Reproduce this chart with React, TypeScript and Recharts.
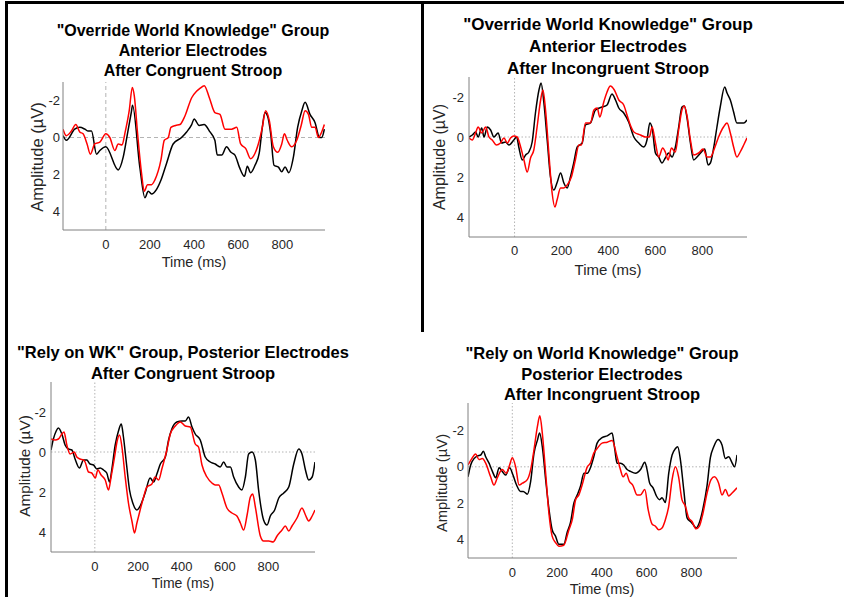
import { LineChart, Line, XAxis, YAxis, ReferenceLine } from "recharts";

// ERP waveforms, [time ms, amplitude µV]
const p1Black = [[-194,-0.1],[-179,0.15],[-141,-0.45],[-118,-0.55],[-95,-0.45],[-80,-0.35],[-65,-0.35],[-42,0.9],[-27,0.7],[0,0.5],[56,1.75],[79,1.05],[98,-0.2],[116,-1.4],[121,-1.75],[154,1.6],[177,3.25],[192,2.9],[207,3.05],[230,2.8],[250,2.3],[275,1.4],[305,0.35],[343,0],[366,-0.3],[389,-0.7],[400,-1.0],[423,-0.65],[445,-0.7],[472,-0.3],[494,0.15],[505,0.95],[525,0.95],[547,0.5],[567,0.8],[585,0.95],[605,1.6],[628,2.1],[641,1.55],[656,1.9],[676,1.5],[695,0.85],[709,-0.55],[721,-1.35],[733,-1.15],[747,-0.2],[762,1.5],[782,1.6],[797,1.85],[812,1.6],[829,1.9],[850,1.05],[869,-0.55],[888,-1.45],[903,-1.9],[925,-1.25],[948,-0.8],[968,0],[978,0],[990,-0.45]];
const p1Red = [[-194,-0.45],[-179,-0.1],[-156,-0.35],[-136,-0.7],[-118,-0.3],[-103,-0.2],[-85,0.35],[-70,0.9],[-50,0.35],[-27,0.25],[0,-0.2],[18,0],[41,0.7],[56,0.35],[74,0.4],[86,-0.2],[106,-1.45],[120,-2.7],[129,-2.25],[144,-0.2],[162,1.95],[174,2.9],[189,2.55],[207,2.55],[222,2.3],[250,1.2],[265,0.15],[283,0],[295,-0.55],[316,-0.65],[336,-0.7],[358,-1.15],[389,-2.15],[411,-2.5],[426,-2.65],[446,-2.8],[469,-2.15],[494,-1.35],[517,-1.25],[540,-0.45],[570,-0.45],[593,-0.55],[611,0.35],[634,0.6],[656,1.15],[676,0.85],[691,0.35],[709,-0.55],[724,-1.45],[741,-0.9],[759,0.5],[779,0.8],[797,0.35],[809,-0.2],[822,0.15],[842,0.5],[865,0.15],[885,-0.65],[903,-1.45],[918,-1.25],[933,-0.55],[948,-0.55],[963,0],[978,-0.3],[990,-0.7]];

const p2Black = [[-194,0],[-180,-0.1],[-166,-0.25],[-155,0],[-140,-0.45],[-130,0],[-116,-0.5],[-102,-0.35],[-88,0],[-70,-0.2],[-55,0.3],[-38,0.25],[-24,0.4],[-3,0.15],[9,0],[18,0.5],[33,1.15],[47,0.9],[61,0.75],[75,0.25],[89,-1.2],[104,-2.35],[113,-2.7],[125,-1.7],[139,0.15],[153,2],[167,2.65],[182,2.25],[196,1.8],[210,2.3],[224,2.55],[238,2],[252,1.3],[267,0.5],[288,0.3],[302,-0.6],[323,-0.7],[345,-1.35],[373,-1.5],[394,-1.6],[415,-2.15],[430,-1.85],[444,-1.45],[465,-1.2],[486,-0.75],[508,0],[529,0.3],[550,0.5],[564,0.15],[576,-0.7],[586,-0.45],[600,0.8],[614,1],[628,1.3],[642,1.05],[656,0.8],[671,1],[685,0.5],[699,-0.5],[713,-1.5],[723,-1.55],[734,-1],[749,0.3],[763,1.15],[777,1],[796,0.75],[810,0.6],[824,1.4],[834,1.3],[848,0.55],[862,-0.5],[876,-1.5],[895,-2.5],[905,-2.2],[919,-1.85],[933,-1.25],[947,-0.7],[961,-0.7],[976,-0.7],[990,-0.85]];
const p2Red = [[-194,0.05],[-180,0.15],[-166,-0.2],[-155,-0.5],[-140,-0.2],[-123,-0.5],[-109,0],[-95,0.15],[-78,0.4],[-60,0.3],[-45,0.05],[-31,0.3],[-17,0.05],[-3,-0.05],[11,0],[26,0.5],[40,1.15],[54,1.75],[68,1.05],[82,0.65],[96,-0.5],[111,-1.85],[121,-2.35],[132,-1.35],[146,0.8],[160,2.8],[172,3.5],[181,3.15],[196,2.55],[210,2.55],[224,2.4],[242,2],[259,1.15],[274,0.4],[285,0.4],[302,-0.7],[323,-0.7],[338,-1.35],[352,-1.45],[363,-1],[380,-1.75],[394,-2.25],[408,-2.55],[425,-2.35],[444,-1.85],[465,-1.6],[479,-1.1],[493,-0.6],[508,-0.25],[536,-0.1],[557,0],[574,0],[586,-0.5],[600,0.3],[614,1],[631,0.55],[642,0.75],[654,1.15],[668,0.55],[685,0.75],[699,-0.35],[713,-1.35],[723,-1.55],[734,-1.1],[749,0.15],[763,0.9],[784,0.8],[803,0.6],[820,1],[834,1],[852,0.55],[869,0],[890,-0.5],[905,-0.7],[919,-0.2],[933,0.5],[947,1],[961,0.75],[976,0.4],[990,0.05]];

const p3Black = [[-202,-0.1],[-191,-0.65],[-178,-1.05],[-168,-1.2],[-152,-0.9],[-137,-0.35],[-122,-0.15],[-106,-0.1],[-91,0.35],[-71,0.8],[-52,0.4],[-37,0.4],[-22,0.6],[-6,0.65],[9,0.85],[25,0.8],[40,0.9],[55,1.05],[68,1.5],[78,0.9],[94,-0.35],[109,-1.05],[122,-1.4],[132,-0.75],[145,0.5],[160,1.9],[175,2.55],[194,2.9],[209,2.7],[232,2.05],[255,1.3],[271,1.5],[286,1.1],[302,0.6],[325,0.25],[340,-0.6],[355,-1.15],[378,-1.5],[402,-1.55],[417,-1.55],[432,-1.75],[448,-1.25],[463,-0.9],[486,-0.6],[509,0.25],[532,0.5],[555,0.6],[578,0.75],[594,0.5],[609,0.75],[625,0.75],[640,1.25],[663,1.75],[678,1.9],[694,1.25],[709,0.1],[725,0],[740,0.4],[755,1.9],[778,3.4],[794,3.65],[809,3.2],[829,2.9],[848,2.3],[871,2.05],[894,1.75],[917,0.6],[940,-0.15],[955,0.1],[971,0.9],[986,1.4],[1002,1.25],[1015,0.5]];
const p3Red = [[-202,-0.65],[-183,-0.6],[-168,-0.65],[-152,-0.9],[-142,-1.0],[-129,-0.35],[-114,0.1],[-95,0],[-83,0.25],[-68,0.35],[-52,0.4],[-45,0.5],[-29,1.0],[-14,1.05],[2,1.3],[14,0.9],[29,1.15],[48,1.4],[63,1.9],[75,1.25],[91,0.25],[102,-0.5],[114,-0.85],[125,-0.25],[140,1.25],[155,2.55],[171,3.45],[183,4.05],[194,3.55],[209,2.9],[225,2.25],[240,1.75],[263,1.6],[278,1.25],[294,1.4],[309,0.85],[332,-0.1],[348,-0.9],[371,-1.3],[394,-1.5],[417,-1.3],[440,-1.25],[463,-0.4],[478,-0.25],[494,0.65],[517,1.25],[540,1.55],[555,1.65],[571,1.65],[586,2.05],[609,2.8],[632,3.05],[655,3.2],[671,3.55],[686,3.9],[702,3.15],[717,2.25],[728,2.1],[740,2.75],[763,4.2],[778,4.45],[802,4.45],[822,4.5],[840,4.2],[863,3.9],[878,3.7],[894,3.95],[909,3.7],[932,3.3],[955,2.8],[971,3.15],[986,3.45],[1002,3.2],[1015,2.9]];

const p4Black = [[-198,0.55],[-186,-0.1],[-171,-0.45],[-156,-0.6],[-141,-0.65],[-129,-0.85],[-119,-0.55],[-104,-0.2],[-89,0.25],[-74,0.6],[-59,0.05],[-45,0.25],[-30,0.45],[-12,0.05],[3,0.45],[19,1.0],[37,1.35],[49,1.35],[67,1.5],[82,0.8],[97,-0.75],[112,-1.45],[122,-1.85],[134,-1.1],[149,0.7],[164,2.35],[178,3.45],[193,3.8],[208,4.25],[230,4.25],[245,3.6],[260,3.05],[275,2],[290,1.55],[305,1.05],[320,0.35],[335,0.35],[349,0.05],[364,-0.55],[379,-1.3],[401,-1.6],[424,-1.7],[446,-1.85],[458,-0.95],[468,-0.2],[483,-0.2],[498,-0.1],[513,0.15],[528,0.25],[550,0.35],[573,0.15],[592,-0.25],[602,0.15],[614,0.9],[629,1.15],[644,1.6],[658,1.8],[669,1.7],[684,1.95],[699,0.35],[714,-0.65],[729,-1.0],[739,-1.1],[751,-0.4],[766,1.25],[781,2.8],[796,3.0],[807,3.15],[821,3.35],[836,3.05],[851,2.35],[870,1.05],[885,-0.5],[900,-1.1],[919,-1.5],[937,-1.2],[952,-0.45],[967,-0.55],[981,-0.25],[993,0],[1004,-0.65]];
const p4Red = [[-198,-0.1],[-181,-0.45],[-164,-0.7],[-149,-0.4],[-134,-0.45],[-119,-0.2],[-97,0.55],[-82,1.0],[-67,0.6],[-45,0.15],[-27,0.35],[-12,-0.1],[0,-0.5],[15,0],[30,1.0],[45,0.9],[67,0.7],[82,0.15],[97,-0.95],[112,-2.2],[123,-2.8],[134,-1.85],[149,0.35],[164,2.6],[178,3.8],[193,4.15],[208,4.35],[230,4.3],[253,3.45],[268,2.9],[283,1.8],[297,1.55],[312,1.0],[335,0],[349,-0.2],[364,-0.75],[379,-1.0],[401,-1.3],[424,-1.35],[446,-1.45],[468,-0.55],[483,0.15],[495,0.55],[509,0.35],[523,0.8],[538,1.0],[558,1.55],[572,1.55],[592,1.25],[607,2.35],[625,3.15],[639,3.25],[654,3.45],[669,3.35],[684,2.9],[699,2.15],[714,0.7],[729,0],[743,0.55],[758,1.8],[773,2.15],[788,2.8],[803,3.0],[821,3.4],[836,3.25],[851,2.6],[870,1.45],[888,0.7],[903,0.55],[922,0.9],[937,1.55],[952,1.25],[967,1.6],[981,1.45],[1004,1.15]];

const xTicks = [0, 200, 400, 600, 800];
const yTicks = [-2, 0, 2, 4];

const titles1 = ['"Override World Knowledge" Group', "Anterior Electrodes", "After Congruent Stroop"];
const titles2 = ['"Override World Knowledge" Group', "Anterior Electrodes", "After Incongruent Stroop"];
const titles3 = ['"Rely on WK" Group, Posterior Electrodes', "After Congruent Stroop"];
const titles4 = ['"Rely on World Knowledge" Group', "Posterior Electrodes", "After Incongruent Stroop"];

const FONT = '"Liberation Sans", Arial, Helvetica, sans-serif';
const TEXT = "#262626";

const panels = [
  { black: p1Black, red: p1Red, titles: titles1, left: 63, right: 325, top: 82, bottom: 230,
    xDomain: [-194, 993], yDomain: [-3, 5], dash: "4 3",
    titleX: 193, titleY: [31, 51, 71], titleSize: 16,
    yLabel: [37, 157], yLabelSize: 16.5, xLabel: [194, 262], xLabelSize: 14.5, xTM: 10, yTM: 3 },
  { black: p2Black, red: p2Red, titles: titles2, left: 469, right: 747, top: 77, bottom: 237,
    xDomain: [-194, 990], yDomain: [-3, 5], dash: "1.5 2",
    titleX: 608, titleY: [24, 46, 67.5], titleSize: 17,
    yLabel: [440, 157], yLabelSize: 16, xLabel: [608, 269], xLabelSize: 15, xTM: 9, yTM: 5 },
  { black: p3Black, red: p3Red, titles: titles3, left: 51, right: 315, top: 382, bottom: 552,
    xDomain: [-202, 1015], yDomain: [-3.5, 5], dash: "1.5 2",
    titleX: 183, titleY: [352, 373], titleSize: 16.5,
    yLabel: [25, 466], yLabelSize: 15.3, xLabel: [183, 583], xLabelSize: 14, xTM: 10, yTM: 5 },
  { black: p4Black, red: p4Red, titles: titles4, left: 468, right: 737, top: 403, bottom: 558,
    xDomain: [-198, 1004], yDomain: [-3.5, 5], dash: "1.5 2",
    titleX: 602, titleY: [353, 373.5, 394], titleSize: 16.5,
    yLabel: [442, 483], yLabelSize: 14.8, xLabel: [602, 589], xLabelSize: 14.5, xTM: 10, yTM: 4 },
];

const toRows = (pts) => pts.map(([t, v]) => ({ t, v }));

function Panel({ p }) {
  const YW = 40, TOP = 5, RIGHT = 5, XH = 30;
  const w = p.right - p.left + YW + RIGHT;
  const h = p.bottom - p.top + TOP + XH;
  const tick = { fill: TEXT, fontSize: 13, fontFamily: FONT };
  return (
    <>
      {p.titles.map((s, i) => (
        <div key={i} style={{
          position: "absolute", left: p.titleX, top: p.titleY[i], transform: "translate(-50%, -50%)",
          whiteSpace: "nowrap", fontFamily: FONT, fontWeight: "bold", fontSize: p.titleSize, lineHeight: 1, color: "#000"
        }}>{s}</div>
      ))}
      <div style={{
        position: "absolute", left: p.yLabel[0], top: p.yLabel[1], transform: "translate(-50%, -50%) rotate(-90deg)",
        whiteSpace: "nowrap", fontFamily: FONT, fontSize: p.yLabelSize, lineHeight: 1, color: TEXT
      }}>Amplitude (µV)</div>
      <div style={{
        position: "absolute", left: p.xLabel[0], top: p.xLabel[1], transform: "translate(-50%, -50%)",
        whiteSpace: "nowrap", fontFamily: FONT, fontSize: p.xLabelSize, lineHeight: 1, color: TEXT
      }}>Time (ms)</div>
      <div style={{ position: "absolute", left: p.left - YW, top: p.top - TOP }}>
        <LineChart width={w} height={h} margin={{ top: TOP, right: RIGHT, left: 0, bottom: 0 }}>
          <XAxis type="number" dataKey="t" domain={p.xDomain} ticks={xTicks} interval={0} allowDataOverflow
            height={XH} tickLine={false} tickSize={0} tickMargin={p.xTM} axisLine={{ stroke: "#808080" }} tick={tick} />
          <YAxis type="number" domain={p.yDomain} reversed ticks={yTicks} interval={0} allowDataOverflow
            width={YW} tickLine={false} tickSize={0} tickMargin={p.yTM} axisLine={{ stroke: "#808080" }} tick={tick} />
          <ReferenceLine y={0} stroke="#b4b4b4" strokeDasharray={p.dash} />
          <ReferenceLine x={0} stroke="#b4b4b4" strokeDasharray={p.dash} />
          <Line data={toRows(p.black)} dataKey="v" type="monotone" stroke="#000000" strokeWidth={1.5} dot={false} isAnimationActive={false} />
          <Line data={toRows(p.red)} dataKey="v" type="monotone" stroke="#ff0000" strokeWidth={1.5} dot={false} isAnimationActive={false} />
        </LineChart>
      </div>
    </>
  );
}

export default function App() {
  return (
    <div style={{ position: "absolute", left: 0, top: 0, width: 844, height: 597, background: "#fff", overflow: "hidden" }}>
      <div style={{ position: "absolute", left: 5, top: 1, width: 839, height: 3, background: "#000" }} />
      <div style={{ position: "absolute", left: 5, top: 1, width: 3, height: 596, background: "#000" }} />
      <div style={{ position: "absolute", left: 421, top: 1, width: 3, height: 331, background: "#000" }} />
      {panels.map((p, i) => <Panel key={i} p={p} />)}
    </div>
  );
}
